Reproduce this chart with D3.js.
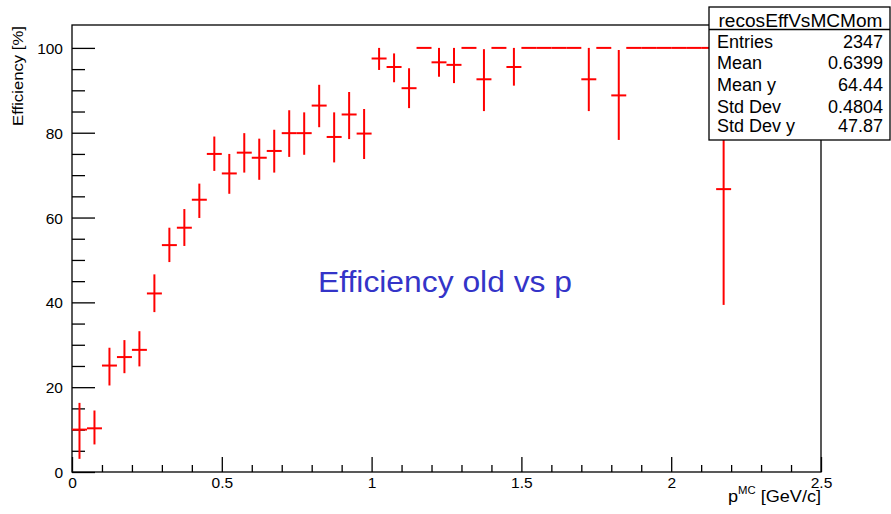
<!DOCTYPE html>
<html>
<head>
<meta charset="utf-8">
<script src="https://cdn.jsdelivr.net/npm/d3@7"></script>
<style>
  html, body { margin: 0; padding: 0; background: #fff; }
  svg { display: block; font-family: "Liberation Sans", Arial, Helvetica, sans-serif; }
</style>
</head>
<body>
<svg id="chart" width="891" height="514"></svg>
<script>
// ---- data ----
const binCenters = [0.025, 0.075, 0.125, 0.175, 0.225, 0.275, 0.325, 0.375, 0.425, 0.475,
                    0.525, 0.575, 0.625, 0.675, 0.725, 0.775, 0.825, 0.875, 0.925, 0.975,
                    1.025, 1.075, 1.125, 1.175, 1.225, 1.275, 1.325, 1.375, 1.425, 1.475,
                    1.525, 1.575, 1.625, 1.675, 1.725, 1.775, 1.825, 1.875, 1.925, 1.975,
                    2.025, 2.075, 2.125, 2.175];
const binHalfWidth = 0.025;
const efficiency = [10.0, 10.3, 25.1, 27.1, 28.8, 42.1, 53.5, 57.6, 64.2, 75.0,
                    70.4, 75.3, 74.1, 75.7, 79.9, 79.9, 86.4, 79.0, 84.3, 79.8,
                    97.5, 95.5, 90.5, 100, 96.6, 96.0, 100, 92.6, 100, 95.5,
                    100, 100, 100, 100, 92.6, 100, 88.8, 100, 100, 100,
                    100, 100, 100, 66.7];
const errLow = [6.9, 3.8, 4.7, 3.8, 3.9, 4.4, 4.0, 4.3, 4.3, 4.0,
                4.8, 4.7, 5.2, 5.1, 5.6, 5.1, 5.1, 6.0, 5.8, 6.0,
                2.7, 3.6, 4.7, 0, 3.4, 4.3, 0, 7.5, 0, 4.4,
                0, 0, 0, 0, 7.5, 0, 10.5, 0, 0, 0,
                0, 0, 0, 27.3];
const errHigh = [6.3, 4.2, 4.2, 4.0, 4.4, 4.5, 4.1, 4.4, 3.8, 4.1,
                 4.6, 4.6, 4.5, 5.0, 5.4, 4.9, 4.9, 5.8, 5.3, 5.8,
                 2.5, 3.2, 4.7, 0, 3.4, 4.0, 0, 7.1, 0, 4.5,
                 0, 0, 0, 0, 7.4, 0, 10.7, 0, 0, 0,
                 0, 0, 0, 27.3];
const xMajorTicks = [0, 0.5, 1, 1.5, 2, 2.5];
const xTickLabels = ["0", "0.5", "1", "1.5", "2", "2.5"];
const xMinorTicks = [0.1, 0.2, 0.3, 0.4, 0.6, 0.7, 0.8, 0.9, 1.1, 1.2, 1.3, 1.4,
                     1.6, 1.7, 1.8, 1.9, 2.1, 2.2, 2.3, 2.4];
const yMajorTicks = [0, 20, 40, 60, 80, 100];
const yMinorTicks = [5, 10, 15, 25, 30, 35, 45, 50, 55, 65, 70, 75, 85, 90, 95, 105];
const statsTitle = "recosEffVsMCMom";
const statsLabels = ["Entries", "Mean", "Mean y", "Std Dev", "Std Dev y"];
const statsValues = ["2347", "0.6399", "64.44", "0.4804", "47.87"];
const plotLabel = "Efficiency old vs p";
const yTitle = "Efficiency [%]";

// ---- layout ----
const svg = d3.select("#chart");
const L = 72, R = 821, T = 25, B = 472;
const x = d3.scaleLinear().domain([0, 2.5]).range([L, R]);
const y = d3.scaleLinear().domain([0, 105.4]).range([B, T]);

// frame
svg.append("rect").attr("x", L).attr("y", T).attr("width", R - L).attr("height", B - T)
  .attr("fill", "none").attr("stroke", "#000").attr("stroke-width", 1.3);

// y axis
const yAxis = d3.axisLeft(y).tickValues(yMajorTicks).tickSizeInner(-23).tickSizeOuter(0).tickPadding(32)
  .tickFormat(d3.format("d"));
const gy = svg.append("g").attr("transform", `translate(${L},0)`).call(yAxis);
const yMinor = d3.axisLeft(y).tickValues(yMinorTicks).tickSizeInner(-13).tickSizeOuter(0).tickFormat("");
const gy2 = svg.append("g").attr("transform", `translate(${L},0)`).call(yMinor);
[gy, gy2].forEach(g => { g.select(".domain").remove(); g.selectAll("line").attr("stroke", "#000").attr("stroke-width", 1.3); });
gy2.selectAll(".tick").filter(d => d > 100).remove();
gy.selectAll("text").attr("font-size", 15.5).attr("fill", "#000");
gy.selectAll(".tick text").attr("x", -9).attr("dy", "0.36em");

// x axis
const xAxis = d3.axisBottom(x).tickValues(xMajorTicks).tickSizeInner(-15).tickSizeOuter(0).tickPadding(8)
  .tickFormat((d, i) => xTickLabels[i]);
const gx = svg.append("g").attr("transform", `translate(0,${B})`).call(xAxis);
const xMinor = d3.axisBottom(x).tickValues(xMinorTicks).tickSizeInner(-7).tickSizeOuter(0).tickFormat("");
const gx2 = svg.append("g").attr("transform", `translate(0,${B})`).call(xMinor);
[gx, gx2].forEach(g => { g.select(".domain").remove(); g.selectAll("line").attr("stroke", "#000").attr("stroke-width", 1.3); });
gx.selectAll(".tick text").attr("font-size", 15.5).attr("fill", "#000").attr("y", 5).attr("dy", "0.71em");

// axis titles
svg.append("text").attr("transform", `translate(23,${T + 1}) rotate(-90)`)
  .attr("text-anchor", "end").attr("font-size", 14.5)
  .attr("textLength", 100).attr("lengthAdjust", "spacingAndGlyphs").text(yTitle);
const xt = svg.append("text").attr("x", R).attr("y", 502).attr("text-anchor", "end").attr("font-size", 16);
xt.append("tspan").text("p");
xt.append("tspan").attr("font-size", 10).attr("dy", -8).text("MC");
xt.append("tspan").attr("dy", 8).text(" [GeV/c]");
xt.attr("textLength", 93).attr("lengthAdjust", "spacingAndGlyphs");

// error bars
const pts = binCenters.map((c, i) => ({ c, v: efficiency[i], lo: errLow[i], hi: errHigh[i] }));
const gp = svg.append("g").attr("stroke", "#ff0000").attr("stroke-width", 2);
gp.selectAll("line.h").data(pts).join("line").attr("class", "h")
  .attr("x1", d => x(d.c - binHalfWidth)).attr("x2", d => x(d.c + binHalfWidth))
  .attr("y1", d => y(d.v)).attr("y2", d => y(d.v));
gp.selectAll("line.v").data(pts.filter(d => d.lo > 0 || d.hi > 0)).join("line").attr("class", "v")
  .attr("x1", d => x(d.c)).attr("x2", d => x(d.c))
  .attr("y1", d => y(d.v - d.lo)).attr("y2", d => y(d.v + d.hi));

// centre label
svg.append("text").attr("x", 318).attr("y", 292).attr("font-size", 30).attr("fill", "#3434c8")
  .attr("textLength", 254).attr("lengthAdjust", "spacingAndGlyphs").text(plotLabel);

// stats box
const sx = 709, sy = 7, sw = 181, sh = 133;
svg.append("rect").attr("x", sx).attr("y", sy).attr("width", sw).attr("height", sh)
  .attr("fill", "#fff").attr("stroke", "#000").attr("stroke-width", 1.3);
svg.append("line").attr("x1", sx).attr("x2", sx + sw).attr("y1", 29.5).attr("y2", 29.5)
  .attr("stroke", "#000").attr("stroke-width", 1.3);
svg.append("text").attr("x", sx + sw / 2 + 1).attr("y", 26.5).attr("text-anchor", "middle")
  .attr("font-size", 18).attr("textLength", 164).attr("lengthAdjust", "spacingAndGlyphs").text(statsTitle);
const rowY = [48, 69, 90.5, 113, 131.5];
statsLabels.forEach((t, i) => {
  svg.append("text").attr("x", 717).attr("y", rowY[i]).attr("font-size", 18).text(t);
  svg.append("text").attr("x", 883).attr("y", rowY[i]).attr("font-size", 18).attr("text-anchor", "end").text(statsValues[i]);
});
</script>
</body>
</html>
